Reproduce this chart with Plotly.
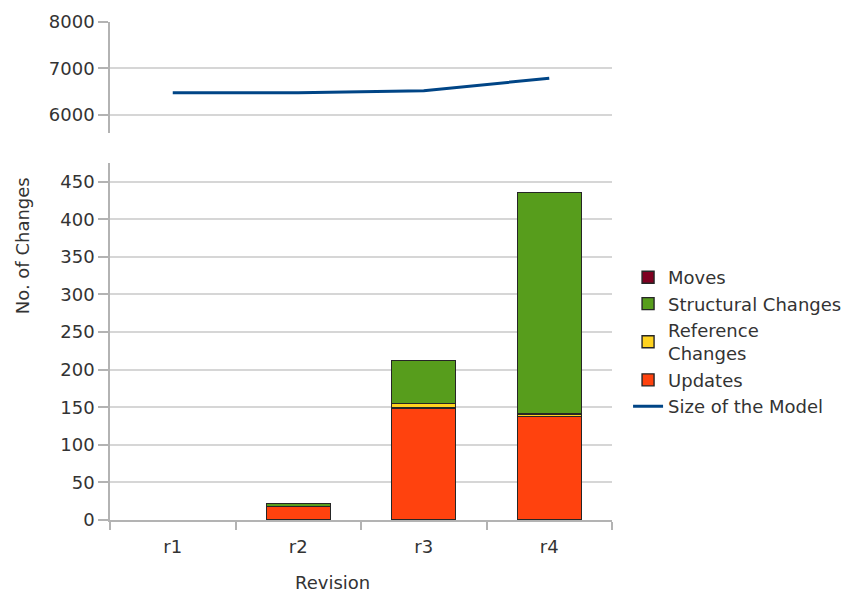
import plotly.graph_objects as go

revisions = ["r1", "r2", "r3", "r4"]
updates = [0, 18, 149, 138]
reference_changes = [0, 0, 6, 3]
structural_changes = [0, 4, 57, 295]
moves = [0, 0, 0, 0]
model_size = [6480, 6480, 6520, 6790]

grid = "#b3b3b3"
text_col = "#333333"
outline = dict(color="#262626", width=1.4)
family = "DejaVu Sans, Liberation Sans, sans-serif"
fsize = 18


def nonzero(vals):
    # empty segments are left out so they draw no outline
    return [v if v else None for v in vals]


fig = go.Figure()

bar_series = [
    ("Updates", updates, "#ff420e", 4),
    ("Reference<br>Changes", reference_changes, "#ffd320", 3),
    ("Structural Changes", structural_changes, "#579d1c", 2),
    ("Moves", moves, "#7e0021", 1),
]
for name, vals, col, rank in bar_series:
    fig.add_trace(go.Bar(
        x=revisions, y=nonzero(vals), name=name, legendrank=rank,
        marker=dict(color=col, line=outline), width=0.51,
        xaxis="x", yaxis="y",
    ))

fig.add_trace(go.Scatter(
    x=revisions, y=model_size, name="Size of the Model", legendrank=5,
    mode="lines", line=dict(color="#004586", width=3),
    xaxis="x2", yaxis="y2",
))

axis_font = dict(family=family, size=fsize, color=text_col)

fig.update_layout(
    width=845, height=597,
    margin=dict(l=110, r=233, t=22, b=77, autoexpand=False),
    paper_bgcolor="white", plot_bgcolor="white",
    barmode="stack", bargap=0.49,
    font=dict(family=family, size=fsize, color=text_col),
    showlegend=True,
    legend=dict(
        x=1.032, y=0.524, xanchor="left", yanchor="top",
        traceorder="normal",
        font=dict(family=family, size=fsize, color=text_col),
        tracegroupgap=0, itemwidth=30,
        bgcolor="rgba(0,0,0,0)",
    ),
    xaxis=dict(
        domain=[0, 1], anchor="y", type="category",
        range=[-0.5, 3.5],
        showline=True, linecolor=grid, linewidth=1.5,
        ticks="outside", tickson="boundaries", ticklen=8, tickcolor=grid, tickwidth=1.5,
        ticklabelstandoff=10,
        showgrid=False, tickfont=axis_font,
    ),
    yaxis=dict(
        domain=[0, 0.717], anchor="x",
        range=[0, 475], tickvals=list(range(0, 451, 50)),
        showline=True, linecolor=grid, linewidth=1.5,
        ticks="outside", ticklen=10, tickcolor=grid, tickwidth=1.5,
        showgrid=True, gridcolor="#d6d6d6", gridwidth=1.5,
        zeroline=False, tickfont=axis_font,
    ),
    xaxis2=dict(
        domain=[0, 1], anchor="y2", type="category",
        range=[-0.5, 3.5], matches="x",
        showline=False, showticklabels=False, ticks="", showgrid=False,
    ),
    yaxis2=dict(
        domain=[0.777, 1], anchor="x2",
        range=[5610, 8000], tickvals=[6000, 7000, 8000],
        showline=True, linecolor=grid, linewidth=1.5,
        ticks="outside", ticklen=10, tickcolor=grid, tickwidth=1.5,
        showgrid=True, gridcolor="#d6d6d6", gridwidth=1.5,
        zeroline=False, tickfont=axis_font,
    ),
    annotations=[
        dict(
            text="No. of Changes", textangle=-90,
            xref="paper", yref="paper", x=-0.175, y=0.55,
            xanchor="center", yanchor="middle", showarrow=False,
            font=axis_font,
        ),
        dict(
            text="Revision",
            xref="paper", yref="paper", x=0.444, y=-0.1245,
            xanchor="center", yanchor="middle", showarrow=False,
            font=axis_font,
        ),
    ],
)

fig.write_html("out.html")
